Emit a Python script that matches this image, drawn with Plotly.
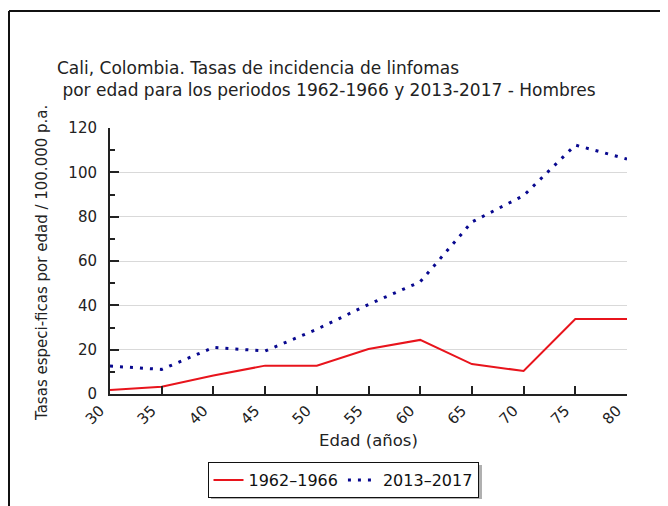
import plotly.graph_objects as go

# ---- data ----
edad = [30, 35, 40, 45, 50, 55, 60, 65, 70, 75, 80]
tasas_1962_1966 = [1.8, 3.3, 8.3, 12.8, 12.8, 20.3, 24.4, 13.5, 10.4, 33.8, 33.8]
tasas_2013_2017 = [12.6, 11.1, 21.0, 19.4, 29.2, 40.4, 50.6, 77.6, 89.5, 112.3, 106.0]
x_ticks = [30, 35, 40, 45, 50, 55, 60, 65, 70, 75, 80]
y_ticks = [0, 20, 40, 60, 80, 100, 120]

OFF = 8  # page body margin
W, H = 668 - OFF, 506 - OFF
L, R, T, B = 110 - OFF, 41, 128 - OFF, 112
PW, PH = W - L - R, H - T - B

def px(xp):  # page x pixel -> paper
    return (xp - OFF - L) / PW

def py(yp):  # page y pixel -> paper
    return (H - B - (yp - OFF)) / PH

FONT = "DejaVu Sans"

fig = go.Figure()
fig.add_trace(go.Scatter(x=edad, y=tasas_1962_1966, mode="lines", name="1962–1966",
                         line=dict(color="#e8141c", width=2)))
fig.add_trace(go.Scatter(x=edad, y=tasas_2013_2017, mode="lines", name="2013–2017",
                         line=dict(color="#08088f", width=3, dash="3px,7px")))

fig.update_layout(
    width=W, height=H,
    margin=dict(l=L, r=R, t=T, b=B, autoexpand=False),
    paper_bgcolor="white", plot_bgcolor="white",
    font=dict(family=FONT, size=13, color="#222"),
    title=dict(text="Cali, Colombia. Tasas de incidencia de linfomas<br>\u00a0por edad para los periodos 1962-1966 y 2013-2017 - Hombres",
               x=(57 - OFF) / W, xref="container", xanchor="left",
               y=1 - 66 / H, yref="container", yanchor="top",
               font=dict(family=FONT, size=17, color="#222")),
    showlegend=True,
    legend=dict(orientation="h", x=px(343), xanchor="center", y=py(462), yanchor="top",
                bgcolor="white", bordercolor="#111", borderwidth=1,
                font=dict(family=FONT, size=16, color="#111")),
    xaxis=dict(range=[30, 80], tickvals=x_ticks, ticktext=[str(v) for v in x_ticks],
               tickangle=-45, ticks="inside", ticklen=8, tickcolor="#222", tickwidth=1.5,
               showline=True, linecolor="#222", linewidth=2, showgrid=False, zeroline=False,
               tickfont=dict(size=15), ticklabelshift=-10, fixedrange=True),
    yaxis=dict(range=[0, 120], tickvals=y_ticks, ticks="inside", ticklen=9, tickcolor="#222",
               tickwidth=1.5, showline=True, linecolor="#222", linewidth=2,
               showgrid=True, gridcolor="#d9d9d9", gridwidth=1, zeroline=False,
               minor=dict(tickvals=[10, 30, 50, 70, 90, 110], ticks="inside", ticklen=5,
                          tickcolor="#222", tickwidth=1.5, showgrid=False),
               tickfont=dict(size=15), ticklabelstandoff=8, fixedrange=True),
    annotations=[
        dict(text="Edad (años)", xref="paper", yref="paper", x=px(368), y=py(440),
             showarrow=False, xanchor="center", yanchor="middle", font=dict(size=16.5)),
        dict(text="Tasas especi-ficas por edad / 100.000 p.a.", xref="paper", yref="paper",
             x=px(42), y=py(263), textangle=-90, showarrow=False,
             xanchor="center", yanchor="middle", font=dict(size=15)),
    ],
    shapes=[
        # outer frame
        dict(type="line", xref="paper", yref="paper", x0=px(9), x1=px(9), y0=py(11), y1=py(520),
             line=dict(color="#111", width=2)),
        dict(type="line", xref="paper", yref="paper", x0=px(9), x1=px(668), y0=py(11), y1=py(11),
             line=dict(color="#111", width=2)),
        dict(type="line", xref="paper", yref="paper", x0=px(665), x1=px(665), y0=py(11), y1=py(520),
             line=dict(color="#dddddd", width=1)),
        # legend shadow
        dict(type="rect", xref="paper", yref="paper", x0=px(211), x1=px(482), y0=py(465), y1=py(499),
             line=dict(width=0), fillcolor="#b0b0b0", layer="below"),
    ],
)

fig.write_html("out.html")
